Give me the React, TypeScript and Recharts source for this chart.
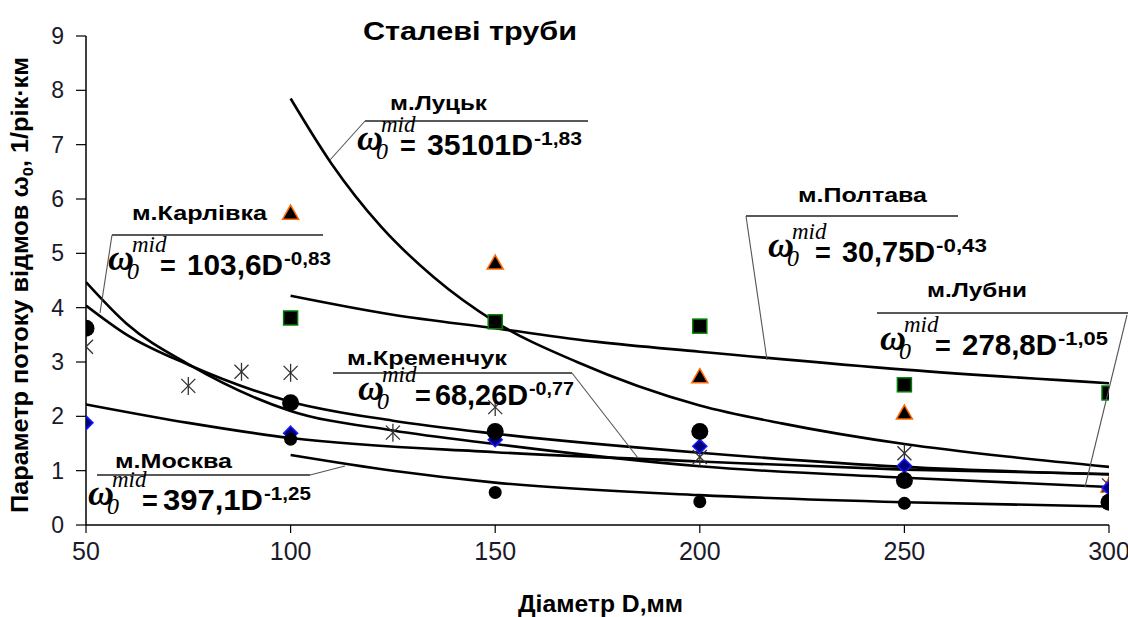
import React from "react";
import { ComposedChart, Line, Scatter, XAxis, YAxis } from "recharts";

const xTicks = [50, 100, 150, 200, 250, 300];
const yTicks = [0, 1, 2, 3, 4, 5, 6, 7, 8, 9];

// measured points (diameter, value)
const squareD = [100, 150, 200, 250, 300];
const squareVal = [3.81, 3.74, 3.66, 2.58, 2.43];
const triangleD = [100, 150, 200, 250, 300];
const triangleVal = [5.74, 4.82, 2.73, 2.06, 0.72];
const diamondD = [50, 100, 150, 200, 250, 300];
const diamondVal = [1.88, 1.69, 1.57, 1.45, 1.09, 0.68];
const starD = [50, 75, 88, 100, 125, 150, 200, 250, 300];
const starVal = [3.28, 2.56, 2.82, 2.8, 1.7, 2.17, 1.25, 1.32, 0.73];
const bigDotD = [50, 100, 150, 200, 250, 300];
const bigDotVal = [3.62, 2.25, 1.72, 1.72, 0.82, 0.42];
const smallDotD = [100, 150, 200, 250];
const smallDotVal = [1.58, 0.6, 0.43, 0.4];

// trend curves
const lutskD = [100, 110, 122, 135, 150, 170, 200, 220, 250, 275, 300];
const lutskVal = [7.85, 6.65, 5.5, 4.56, 3.74, 3.0, 2.2, 1.87, 1.49, 1.26, 1.07];
const poltavaD = [100, 125, 150, 175, 200, 250, 300];
const poltavaVal = [4.22, 3.87, 3.62, 3.37, 3.19, 2.86, 2.61];
const lubniD = [50, 60, 75, 100, 125, 150, 200, 250, 300];
const lubniVal = [4.47, 3.7, 2.96, 2.1, 1.74, 1.49, 1.08, 0.87, 0.7];
const karlivkaD = [50, 60, 75, 100, 125, 150, 200, 250, 300];
const karlivkaVal = [4.04, 3.5, 2.95, 2.27, 1.92, 1.68, 1.33, 1.07, 0.93];
const kremenchukD = [50, 75, 100, 150, 200, 250, 300];
const kremenchukVal = [2.22, 1.88, 1.6, 1.34, 1.17, 1.02, 0.94];
const moscowD = [100, 125, 150, 200, 250, 300];
const moscowVal = [1.29, 1.0, 0.78, 0.55, 0.42, 0.34];

const pts = (d: number[], v: number[]) => d.map((x, i) => ({ x, y: v[i] }));

const curves = [
  pts(lutskD, lutskVal),
  pts(poltavaD, poltavaVal),
  pts(lubniD, lubniVal),
  pts(karlivkaD, karlivkaVal),
  pts(kremenchukD, kremenchukVal),
  pts(moscowD, moscowVal),
];

const SquareMark = (p: any) => (
  <rect x={p.cx - 7} y={p.cy - 7} width={14} height={14} fill="#000" stroke="#008000" strokeWidth={1.5} />
);
const TriangleMark = (p: any) => (
  <polygon
    points={`${p.cx},${p.cy - 8} ${p.cx + 8},${p.cy + 6} ${p.cx - 8},${p.cy + 6}`}
    fill="#000"
    stroke="#ff6600"
    strokeWidth={1.5}
  />
);
const DiamondMark = (p: any) => (
  <polygon
    points={`${p.cx},${p.cy - 7} ${p.cx + 7},${p.cy} ${p.cx},${p.cy + 7} ${p.cx - 7},${p.cy}`}
    fill="#000080"
    stroke="#1a1aff"
    strokeWidth={1.5}
  />
);
const StarMark = (p: any) => (
  <g stroke="#333" strokeWidth={1.3}>
    <line x1={p.cx - 7} y1={p.cy - 7} x2={p.cx + 7} y2={p.cy + 7} />
    <line x1={p.cx + 7} y1={p.cy - 7} x2={p.cx - 7} y2={p.cy + 7} />
    <line x1={p.cx} y1={p.cy - 9} x2={p.cx} y2={p.cy + 9} />
  </g>
);
const BigDot = (p: any) => <circle cx={p.cx} cy={p.cy} r={8.5} fill="#000" />;
const SmallDot = (p: any) => <circle cx={p.cx} cy={p.cy} r={6.5} fill="#000" />;

// annotation layout (pixels)
const labels = [
  { t: "м.Луцьк", x: 390, y: 110, w: 97, rule: [365, 588, 121], lead: [365, 121, 330, 160] },
  { t: "м.Карлівка", x: 132, y: 220, w: 135, rule: [112, 323, 235], lead: [112, 235, 100, 313] },
  { t: "м.Полтава", x: 798, y: 202, w: 129, rule: [746, 958, 216], lead: [746, 216, 767, 360] },
  { t: "м.Лубни", x: 927, y: 297, w: 100, rule: [877, 1128, 313], lead: [1127, 315, 1085, 487] },
  { t: "м.Кременчук", x: 347, y: 365, w: 160, rule: [333, 572, 373], lead: [572, 373, 638, 458] },
  { t: "м.Москва", x: 115, y: 468, w: 117, rule: [97, 310, 475], lead: [310, 475, 345, 466] },
];

const formulas = [
  { wx: 357, ex: 400, nx: 427, nl: 106, b: 155, num: "35101D", exp: "-1,83", el: 48 },
  { wx: 108, ex: 160, nx: 187, nl: 96, b: 275, num: "103,6D", exp: "-0,83", el: 47 },
  { wx: 88, ex: 142, nx: 163, nl: 100, b: 510, num: "397,1D", exp: "-1,25", el: 47 },
  { wx: 358, ex: 415, nx: 435, nl: 93, b: 405, num: "68,26D", exp: "-0,77", el: 45 },
  { wx: 768, ex: 815, nx: 842, nl: 93, b: 262, num: "30,75D", exp: "-0,43", el: 51 },
  { wx: 880, ex: 935, nx: 962, nl: 95, b: 355, num: "278,8D", exp: "-1,05", el: 50 },
];

const sans = "'Liberation Sans', Arial, sans-serif";
const serif = "'Liberation Serif', 'Times New Roman', serif";

function Formula({ f }: { f: (typeof formulas)[number] }) {
  return (
    <g fill="#000">
      <text x={f.wx} y={f.b - 5} fontFamily={serif} fontStyle="italic" fontWeight="bold" fontSize={36}>
        ω
      </text>
      <text x={f.wx + 24} y={f.b - 23} fontFamily={serif} fontStyle="italic" fontSize={23}>
        mid
      </text>
      <text x={f.wx + 19} y={f.b + 4} fontFamily={serif} fontStyle="italic" fontSize={24}>
        0
      </text>
      <text x={f.ex} y={f.b} fontFamily={sans} fontWeight="bold" fontSize={27}>
        =
      </text>
      <text x={f.nx} y={f.b} fontFamily={sans} fontWeight="bold" fontSize={29} textLength={f.nl} lengthAdjust="spacingAndGlyphs">
        {f.num}
      </text>
      <text x={f.nx + f.nl + 1} y={f.b - 10} fontFamily={sans} fontWeight="bold" fontSize={19} textLength={f.el} lengthAdjust="spacingAndGlyphs">
        {f.exp}
      </text>
    </g>
  );
}

export default function App() {
  return (
    <div style={{ position: "absolute", left: 0, top: 0, width: 1128, height: 617, background: "#fff" }}>
      <ComposedChart width={1128} height={617} margin={{ top: 36, right: 19, bottom: 0, left: 0 }}>
        <XAxis
          type="number"
          dataKey="x"
          domain={[50, 300]}
          ticks={xTicks}
          allowDataOverflow
          height={92}
          tickSize={8}
          tickMargin={9}
          axisLine={{ stroke: "#000", strokeWidth: 1.5 }}
          tickLine={{ stroke: "#000", strokeWidth: 1.2 }}
          tick={{ fontSize: 25, fill: "#1a1a2a", fontFamily: "'Liberation Sans Narrow', 'Liberation Sans', Arial" }}
        />
        <YAxis
          type="number"
          domain={[0, 9]}
          ticks={yTicks}
          width={86}
          tickSize={10}
          tickMargin={12}
          axisLine={{ stroke: "#000", strokeWidth: 1.5 }}
          tickLine={{ stroke: "#000", strokeWidth: 1.2 }}
          tick={{ fontSize: 23, fill: "#1a1a2a", fontFamily: sans }}
        />
        <Scatter data={pts(squareD, squareVal)} dataKey="y" shape={SquareMark} isAnimationActive={false} />
        <Scatter data={pts(triangleD, triangleVal)} dataKey="y" shape={TriangleMark} isAnimationActive={false} />
        <Scatter data={pts(starD, starVal)} dataKey="y" shape={StarMark} isAnimationActive={false} />
        <Scatter data={pts(diamondD, diamondVal)} dataKey="y" shape={DiamondMark} isAnimationActive={false} />
        <Scatter data={pts(bigDotD, bigDotVal)} dataKey="y" shape={BigDot} isAnimationActive={false} />
        <Scatter data={pts(smallDotD, smallDotVal)} dataKey="y" shape={SmallDot} isAnimationActive={false} />
        {curves.map((c, i) => (
          <Line
            key={i}
            data={c}
            dataKey="y"
            type="monotone"
            stroke="#000"
            strokeWidth={2.6}
            dot={false}
            activeDot={false}
            isAnimationActive={false}
          />
        ))}
      </ComposedChart>
      <svg width={1128} height={617} style={{ position: "absolute", left: 0, top: 0, pointerEvents: "none" }}>
        <text x={363} y={40} fontFamily={sans} fontWeight="bold" fontSize={26} textLength={214} lengthAdjust="spacingAndGlyphs">
          Сталеві труби
        </text>
        <text
          transform="translate(28,285) rotate(-90)"
          textAnchor="middle"
          fontFamily={sans}
          fontWeight="bold"
          fontSize={23}
          textLength={456}
          lengthAdjust="spacingAndGlyphs"
        >
          Параметр потоку відмов ω<tspan fontSize={15} dy={5}>0</tspan>
          <tspan dy={-5}>, 1/рік·км</tspan>
        </text>
        <text x={518} y={612} fontFamily={sans} fontWeight="bold" fontSize={24} textLength={165} lengthAdjust="spacingAndGlyphs">
          Діаметр D,мм
        </text>
        {labels.map((l) => (
          <g key={l.t}>
            <line x1={l.rule[0]} x2={l.rule[1]} y1={l.rule[2]} y2={l.rule[2]} stroke="#222" strokeWidth={1.6} />
            <line x1={l.lead[0]} y1={l.lead[1]} x2={l.lead[2]} y2={l.lead[3]} stroke="#555" strokeWidth={1.1} />
            <text x={l.x} y={l.y} fontFamily={sans} fontWeight="bold" fontSize={21} textLength={l.w} lengthAdjust="spacingAndGlyphs">
              {l.t}
            </text>
          </g>
        ))}
        {formulas.map((f) => (
          <Formula key={f.num} f={f} />
        ))}
      </svg>
    </div>
  );
}
